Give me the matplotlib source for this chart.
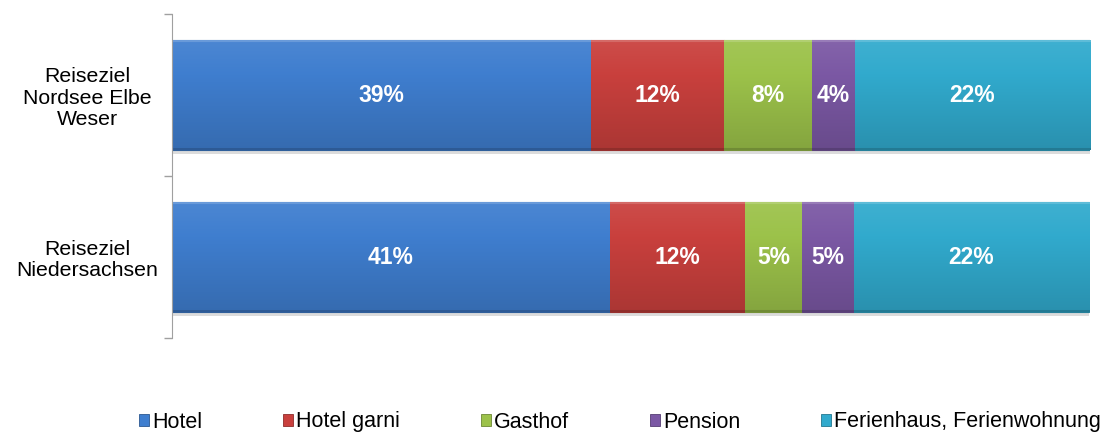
import matplotlib
matplotlib.use("Agg")
import matplotlib.pyplot as plt
import numpy as np
from matplotlib.colors import to_rgb
from matplotlib.patches import Patch

plt.rcParams['font.family'] = ['Liberation Sans', 'DejaVu Sans']

categories = ["Reiseziel\nNiedersachsen", "Reiseziel\nNordsee Elbe\nWeser"]
series = ["Hotel", "Hotel garni", "Gasthof", "Pension", "Ferienhaus, Ferienwohnung"]
# values (percent) per series: [Niedersachsen, Nordsee Elbe Weser]
hotel = [40.6, 38.8]
hotel_garni = [12.5, 12.4]
gasthof = [5.3, 8.1]
pension = [4.8, 4.0]
ferienhaus = [21.8, 21.8]
values = [hotel, hotel_garni, gasthof, pension, ferienhaus]
colors = ["#3f7ecf", "#c9403d", "#9cc24a", "#7b58a4", "#31aacd"]

W, H = 1105, 434
fig = plt.figure(figsize=(W / 100, H / 100), dpi=100)
ax = fig.add_axes([172 / W, (H - 338) / H, (1090 - 172) / W, (338 - 14) / H])

bar_h = 0.68
y = np.arange(len(categories))
left = np.zeros(len(categories))


def shade(c, f):
    r = np.array(to_rgb(c))
    if f >= 1:
        return r + (1 - r) * (f - 1)
    return r * f


for vals, col, name in zip(values, colors, series):
    vals = np.array(vals)
    bars = ax.barh(y, vals, left=left, height=bar_h, color=col,
                   edgecolor=shade(col, 0.75), linewidth=0.8, zorder=2)
    for b, v, l, yy in zip(bars, vals, left, y):
        # vertical gradient (row 0 = top)
        n = 110
        t = np.linspace(0, 1, n)
        fac = 1.07 - 0.22 * t
        fac[:3] = 1.22
        fac[-2:] = 0.72
        grad = np.array([shade(col, f) for f in fac]).reshape(n, 1, 3)
        im = ax.imshow(np.clip(grad, 0, 1), extent=(l, l + v, yy - bar_h / 2, yy + bar_h / 2),
                       origin='upper', aspect='auto', zorder=2.5, interpolation='bilinear')
        im.set_clip_path(b)
        # soft shadow below the bar
        ax.barh(yy - bar_h / 2 - 0.012, v, left=l, height=0.022, color="#dcdcdc",
                linewidth=0, zorder=1)
        ax.text(l + v / 2, yy, f"{v:.0f}%", ha='center', va='center', color='white',
                fontsize=16.5, fontweight='bold', zorder=4)
    left = left + vals

ax.set_xlim(0, left.max())
ax.set_ylim(-0.5, 1.5)
ax.set_yticks(y)
ax.set_yticklabels(categories, fontsize=15.3, multialignment='center', ha='center',
                   linespacing=1.15)
ax.tick_params(axis='y', which='major', length=0, pad=61)
ax.set_yticks([-0.5, 0.5, 1.5], minor=True)
ax.tick_params(axis='y', which='minor', length=6, color='#a0a0a0', width=1)
ax.set_xticks([])
for s in ['top', 'right', 'bottom']:
    ax.spines[s].set_visible(False)
ax.spines['left'].set_color('#a0a0a0')

handles = [Patch(facecolor=c, edgecolor=shade(c, 0.7), linewidth=0.6) for c in colors]
fig.legend(handles, series, loc='center', bbox_to_anchor=(620 / W, 1 - 422 / H), ncol=5,
           frameon=False, fontsize=15.5, handlelength=0.47, handleheight=0.47,
           handletextpad=0.14, columnspacing=3.75, borderaxespad=0, borderpad=0)

fig.savefig("out.png", dpi=100)
